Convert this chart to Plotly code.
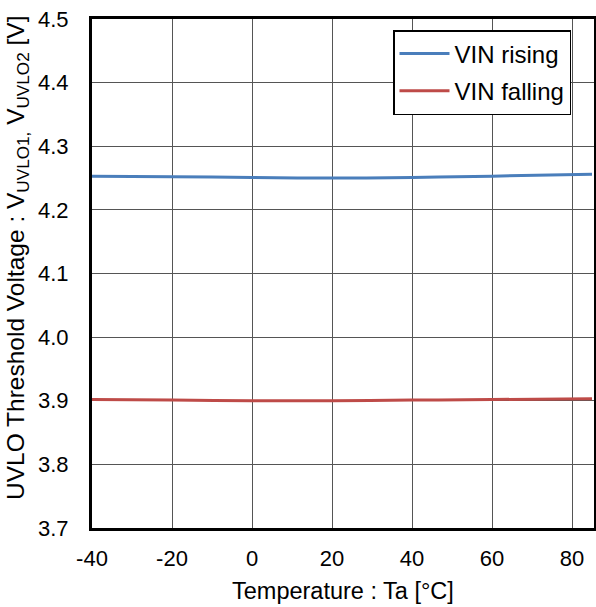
import plotly.graph_objects as go

temps = [-40, -20, 0, 20, 40, 60, 85]
vin_rising = [4.253, 4.252, 4.251, 4.250, 4.251, 4.253, 4.256]
vin_falling = [3.902, 3.901, 3.900, 3.900, 3.901, 3.902, 3.903]
x_ticks = [-40, -20, 0, 20, 40, 60, 80]
x_tick_text = ["-40", "-20", "0", "20", "40", "60", "80"]
y_ticks = [3.7, 3.8, 3.9, 4.0, 4.1, 4.2, 4.3, 4.4, 4.5]
y_tick_text = ["3.7", "3.8", "3.9", "4.0", "4.1", "4.2", "4.3", "4.4", "4.5"]

FAM = "Liberation Sans, Arial, sans-serif"
W, H = 596, 607
L, R, T, B = 92, 2, 19, 79

fig = go.Figure()
fig.add_trace(go.Scatter(x=temps, y=vin_rising, mode="lines", name="VIN rising",
                         legendgroup="a",
                         line=dict(color="#4a7ebb", width=3, shape="spline")))
fig.add_trace(go.Scatter(x=temps, y=vin_falling, mode="lines", name="VIN falling",
                         legendgroup="b",
                         line=dict(color="#be4b48", width=3, shape="spline")))

pw = W - L - R
ph = H - T - B
fig.update_layout(
    width=W, height=H,
    margin=dict(l=L, r=R, t=T, b=B),
    paper_bgcolor="white", plot_bgcolor="white",
    font=dict(family=FAM, size=22, color="black"),
    showlegend=True,
    legend=dict(x=(393 - L) / pw, y=(H - B - 30) / ph, xanchor="left", yanchor="top",
                bordercolor="black", borderwidth=1.5, bgcolor="white",
                font=dict(family=FAM, size=24), tracegroupgap=3, itemwidth=50),
    xaxis=dict(range=[-40, 85.5], tickvals=x_ticks, ticktext=x_tick_text, showgrid=True,
               gridcolor="#555555", gridwidth=1, showline=True, linecolor="black",
               linewidth=3, mirror=True, ticks="", zeroline=False, automargin=False,
               ticklabelstandoff=9, tickfont=dict(family=FAM, size=22)),
    yaxis=dict(range=[3.7, 4.5], tickvals=y_ticks, ticktext=y_tick_text, showgrid=True,
               gridcolor="#555555", gridwidth=1, showline=True, linecolor="black",
               linewidth=3, mirror=True, ticks="", zeroline=False, automargin=False,
               ticklabelstandoff=16, tickfont=dict(family=FAM, size=22)),
    annotations=[
        dict(text="Temperature : Ta [°C]", xref="paper", yref="paper",
             x=0.5, y=-(591 - (H - B)) / ph, xanchor="center", yanchor="middle",
             showarrow=False, font=dict(family=FAM, size=23.5)),
        dict(text="UVLO Threshold Voltage : V<sub>UVLO1,</sub> V<sub>UVLO2</sub> [V]",
             xref="paper", yref="paper", textangle=-90,
             x=-(L - 17) / pw, y=(H - B - 258) / ph, xanchor="center", yanchor="middle",
             showarrow=False, font=dict(family=FAM, size=24.5)),
    ],
)
fig.write_html("out.html", config={"displayModeBar": False},
               post_script="document.body.style.margin='0';")
